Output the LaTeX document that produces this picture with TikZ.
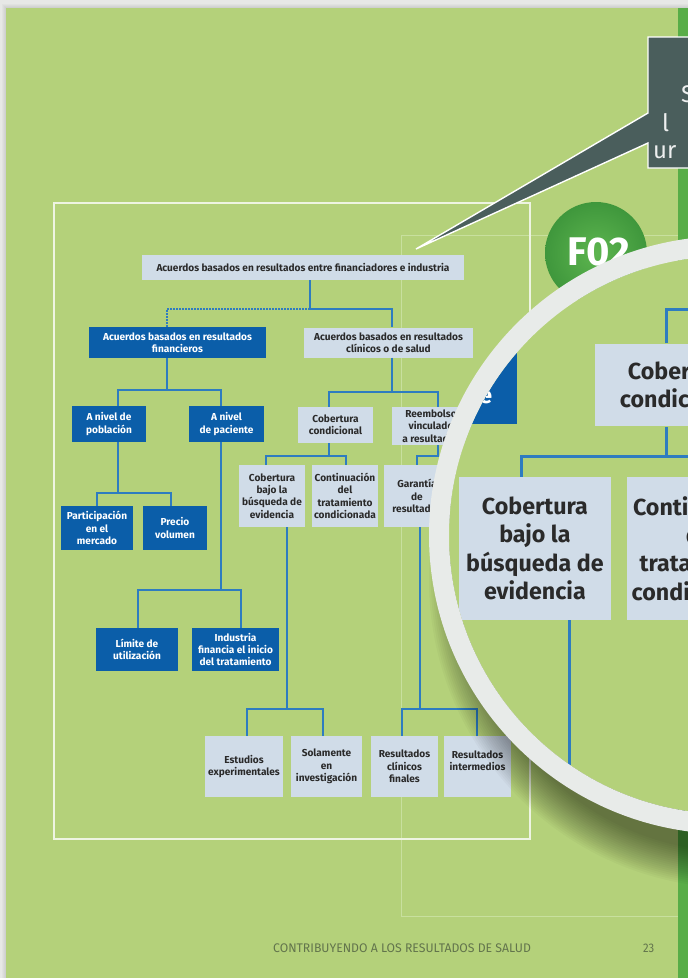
\documentclass[tikz,border=0pt]{standalone}
\usepackage{fontspec}
\usepackage{graphicx}
\setmainfont{Fira Sans}
\definecolor{graybg}{HTML}{E7E8E6}
\definecolor{pagegreen}{HTML}{B4D17A}
\definecolor{stripgreen}{HTML}{58AD47}
\definecolor{boxlight}{HTML}{D0DCE8}
\definecolor{boxblue}{HTML}{0B5EA9}
\definecolor{linkblue}{HTML}{2E7CC0}
\definecolor{txtdark}{HTML}{2A2A2A}
\definecolor{calloutfill}{HTML}{4A5E5C}
\definecolor{ringgray}{HTML}{E8EBE9}
\definecolor{footercol}{HTML}{62744C}
\definecolor{faintline}{HTML}{C8E09E}
\definecolor{framecol}{HTML}{EEF4E2}
\definecolor{fzlight}{HTML}{5DB54F}
\definecolor{fzdark}{HTML}{3F973C}
\newcommand\connlw{1.3pt}
\tikzset{
  boxfont/.style={font=\bfseries\fontsize{10.1}{12.3}\selectfont},
  lbox/.style={boxfont, fill=boxlight, text=txtdark, align=center, inner sep=0pt},
  bbox/.style={boxfont, fill=boxblue, text=white, align=center, inner sep=0pt},
  conn/.style={draw=linkblue, line width=\connlw},
  dconn/.style={conn, dash pattern=on 1.6pt off 1.4pt},
}
\newcommand\orgchart{%
  % nodes
  \node[lbox, minimum width=322, minimum height=25] (t) at (303,267.5) {Acuerdos basados en resultados entre financiadores e industria};
  \node[bbox, minimum width=177, minimum height=31] (fin) at (177.5,342.5) {Acuerdos basados en resultados\\financieros};
  \node[lbox, minimum width=169, minimum height=30] (cli) at (388.5,342.5) {Acuerdos basados en resultados\\clínicos o de salud};
  \node[bbox, minimum width=74, minimum height=36] (pob) at (109,424) {A nivel de\\población};
  \node[bbox, minimum width=75, minimum height=36] (pac) at (226.5,424) {A nivel\\de paciente};
  \node[lbox, minimum width=75, minimum height=36] (cc) at (335.5,425) {Cobertura\\condicional};
  \node[lbox, minimum width=78, minimum height=38] (ree) at (431,426) {Reembolso\\vinculado\\a resultados};
  \node[bbox, minimum width=72, minimum height=44] (par) at (97,528) {Participación\\en el\\mercado};
  \node[bbox, minimum width=64, minimum height=44] (pre) at (175,528) {Precio\\volumen};
  \node[bbox, minimum width=82, minimum height=43] (lim) at (137,649.5) {Límite de\\utilización};
  \node[bbox, minimum width=87, minimum height=43] (ind) at (235.5,649.5) {Industria\\financia el inicio\\del tratamiento};
  \node[lbox, minimum width=66, minimum height=62] (cbe) at (272,496) {Cobertura\\bajo la\\búsqueda de\\evidencia};
  \node[lbox, minimum width=66, minimum height=62] (con) at (345,496) {Continuación\\del\\tratamiento\\condicionada};
  \node[lbox, minimum width=66, minimum height=62] (gar) at (417,496) {Garantía\\de\\resultados};
  \node[lbox, minimum width=78, minimum height=61] (est) at (244,766.5) {Estudios\\experimentales};
  \node[lbox, minimum width=71, minimum height=61] (sol) at (326.5,766.5) {Solamente\\en\\investigación};
  \node[lbox, minimum width=67, minimum height=61] (rcf) at (404.5,766.5) {Resultados\\clínicos\\finales};
  \node[lbox, minimum width=67, minimum height=61] (rin) at (477.5,766.5) {Resultados\\intermedios\\\phantom{I}};
  % junction points
  \coordinate (a1) at (310,309);  \coordinate (a2) at (392,309);  \coordinate (a3) at (167,309);
  \coordinate (b1) at (167,390);  \coordinate (b2) at (118,390);  \coordinate (b3) at (221,390);
  \coordinate (c1) at (118,493);  \coordinate (c2) at (97,493);   \coordinate (c3) at (171,493);
  \coordinate (d1) at (221,590);  \coordinate (d2) at (138,590);  \coordinate (d3) at (241,590);
  \coordinate (e1) at (392,392);  \coordinate (e2) at (329,392);  \coordinate (e3) at (438,392);
  \coordinate (f1) at (329,456);  \coordinate (f2) at (266,456);  \coordinate (f3) at (346,456);
  \coordinate (g1) at (438,456);  \coordinate (g2) at (417,456);
  \coordinate (h1) at (287,709);  \coordinate (h2) at (247,709);  \coordinate (h3) at (323,709);
  \coordinate (i1) at (420,709);  \coordinate (i2) at (402,709);  \coordinate (i3) at (477,709);
  % connectors
  \draw[conn] (t.south -| a1) -- (a1) -- (a2) -- (a2 |- cli.north);
  \draw[dconn] (a1) -- (a3) -- (a3 |- fin.north);
  \draw[conn] (fin.south -| b1) -- (b1);
  \draw[conn] (b2 |- pob.north) -- (b2) -- (b3) -- (b3 |- pac.north);
  \draw[conn] (pob.south -| c1) -- (c1);
  \draw[conn] (c2 |- par.north) -- (c2) -- (c3) -- (c3 |- pre.north);
  \draw[conn] (pac.south -| d1) -- (d1);
  \draw[conn] (d2 |- lim.north) -- (d2) -- (d3) -- (d3 |- ind.north);
  \draw[conn] (cli.south -| e1) -- (e1);
  \draw[conn] (e2 |- cc.north) -- (e2) -- (e3) -- (e3 |- ree.north);
  \draw[conn] (cc.south -| f1) -- (f1);
  \draw[conn] (f2 |- cbe.north) -- (f2) -- (f3) -- (f3 |- con.north);
  \draw[conn] (ree.south -| g1) -- (g1) -- (g2) -- (g2 |- gar.north);
  \draw[conn] (cbe.south -| h1) -- (h1);
  \draw[conn] (h2 |- est.north) -- (h2) -- (h3) -- (h3 |- sol.north);
  \draw[conn] (gar.south -| i1) -- (i1);
  \draw[conn] (i2 |- rcf.north) -- (i2) -- (i3) -- (i3 |- rin.north);
}
\begin{document}
\begin{tikzpicture}[x=1pt,y=-1pt]
  \clip (0,0) rectangle (688,978);
  \useasboundingbox (0,0) rectangle (688,978);
  % page
  \fill[graybg] (0,0) rectangle (688,978);
  \foreach \k in {1,...,4} {\fill[black, opacity=0.025] (6-\k,8-\k) rectangle (688,978);}
  \fill[pagegreen] (6,8) rectangle (688,978);
  % faint guide rectangle and frame
  \draw[faintline, line width=0.7pt] (401,235) rectangle (720,916);
  \draw[framecol, line width=1.2pt] (54,203) rectangle (530,839);
  % small diagram
  \orgchart
  % right strip
  \fill[stripgreen] (678,8) rectangle (688,978);
  % footer
  \node[anchor=base west, text=footercol, inner sep=0pt] (foot) at (273,952)
    {\scalebox{0.98}[1]{\fontsize{12.5}{14}\selectfont CONTRIBUYENDO A LOS RESULTADOS DE SALUD}};
  \node[anchor=base west, text=footercol, inner sep=0pt] (pnum) at (643,952)
    {\scalebox{0.9}[1]{\fontsize{12.5}{14}\selectfont 23}};
  % callout
  \filldraw[fill=calloutfill, draw=white, line width=1.4pt, line join=miter]
    (700,37) -- (648,37) -- (648,113) -- (416,249) -- (648,143) -- (648,168) -- (700,168);
  \node[anchor=base west, text=white!90!calloutfill, inner sep=0pt, font=\fontsize{24}{26}\selectfont] (cs) at (681,102) {S};
  \node[anchor=base west, text=white!90!calloutfill, inner sep=0pt, font=\fontsize{24}{26}\selectfont] (cl) at (662,131) {l};
  \node[anchor=base west, text=white!90!calloutfill, inner sep=0pt, font=\fontsize{24}{26}\selectfont] (cu) at (653,158) {ur};
  % F02 badge
  \shade[inner color=fzlight, outer color=fzdark] (596,253) circle (51);
  \node[text=white, font=\bfseries\fontsize{40}{40}\selectfont, inner sep=0pt] (f02) at (599,252) {F02};
  % magnifier shadow (soft, mostly below)
  \foreach \r in {308,306,...,272} {\fill[black, opacity=0.028] (737,580) circle (\r);}
  % magnifier interior
  \begin{scope}
    \clip (728,535) circle (279);
    \fill[pagegreen] (728,535) circle (280);
    \begin{scope}[name prefix=m-, shift={(-90.7,-592.5)}, scale=2.3,
                  every node/.append style={transform shape}]
      \renewcommand\connlw{3pt}
      \orgchart
    \end{scope}
  \end{scope}
  % magnifier ring
  \draw[ringgray, line width=20pt] (728,535) circle (289);
\end{tikzpicture}
\end{document}
